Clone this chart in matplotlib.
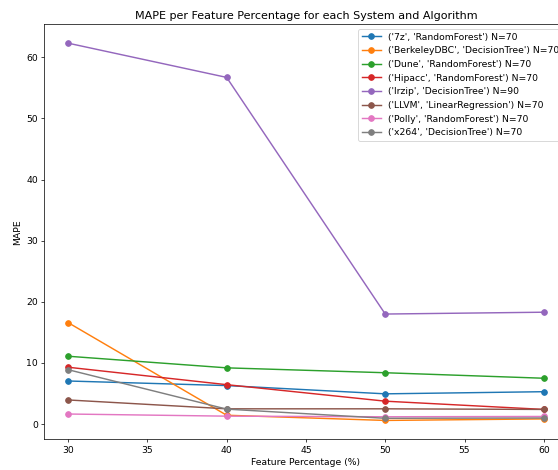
import numpy as np
import matplotlib
matplotlib.use("Agg")
import matplotlib.pyplot as plt

pcts = [30, 40, 50, 60]

labels = [
    "('7z', 'RandomForest') N=70",
    "('BerkeleyDBC', 'DecisionTree') N=70",
    "('Dune', 'RandomForest') N=70",
    "('Hipacc', 'RandomForest') N=70",
    "('lrzip', 'DecisionTree') N=90",
    "('LLVM', 'LinearRegression') N=70",
    "('Polly', 'RandomForest') N=70",
    "('x264', 'DecisionTree') N=70",
]

mape_7z = [7.05, 6.3, 4.95, 5.3]
mape_berkeley = [16.6, 1.45, 0.6, 0.85]
mape_dune = [11.1, 9.2, 8.4, 7.5]
mape_hipacc = [9.3, 6.45, 3.75, 2.4]
mape_lrzip = [62.3, 56.7, 18.0, 18.3]
mape_llvm = [3.95, 2.5, 2.5, 2.4]
mape_polly = [1.65, 1.3, 1.2, 1.25]
mape_x264 = [8.9, 2.45, 0.95, 1.0]

series = [mape_7z, mape_berkeley, mape_dune, mape_hipacc,
          mape_lrzip, mape_llvm, mape_polly, mape_x264]

plt.rcParams['font.size'] = 10.3
plt.rcParams['lines.linewidth'] = 1.6
plt.rcParams['lines.markersize'] = 6.3

fig = plt.figure(figsize=(558/65, 470/65), dpi=65)
# axes run past the right edge, like the cropped original
ax = fig.add_axes([44.3/558, 1-439.3/470, (567.6-44.3)/558, (439.3-24.3)/470])

for lab, vals in zip(labels, series):
    ax.plot(pcts, vals, marker='o', label=lab)

ax.set_title("MAPE per Feature Percentage for each System and Algorithm")
ax.set_xlabel("Feature Percentage (%)")
ax.set_ylabel("MAPE")
ax.legend(loc='upper right')

fig.savefig("out.png", dpi=65)
